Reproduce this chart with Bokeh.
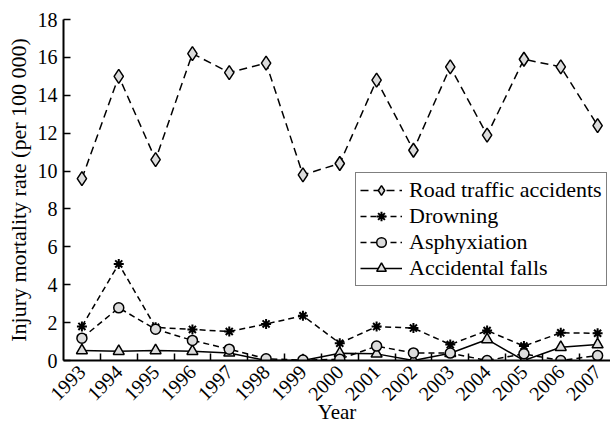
from bokeh.plotting import figure
from bokeh.models import Range1d, FixedTicker, Legend, LegendItem
from bokeh.embed import file_html
from bokeh.resources import INLINE

years = list(range(1993, 2008))
road = [9.6, 15.0, 10.6, 16.2, 15.2, 15.7, 9.8, 10.4, 14.8, 11.1, 15.5, 11.9, 15.9, 15.5, 12.4]
drowning = [1.8, 5.1, 1.75, 1.64, 1.53, 1.93, 2.36, 0.91, 1.79, 1.71, 0.84, 1.58, 0.76, 1.46, 1.44]
asphyx = [1.18, 2.78, 1.65, 1.06, 0.6, 0.09, 0.02, 0.07, 0.76, 0.4, 0.39, 0.0, 0.35, 0.0, 0.26]
falls = [0.53, 0.49, 0.53, 0.49, 0.4, 0.0, 0.0, 0.38, 0.35, 0.0, 0.38, 1.11, 0.0, 0.70, 0.84]
y_ticks = [0, 2, 4, 6, 8, 10, 12, 14, 16, 18]
boundaries = [y + 0.5 for y in years[:-1]]
x_title = "Year"
y_title = "Injury mortality rate (per 100 000)"

FONT = "Liberation Serif"
FILL = "#dcdcdc"

p = figure(width=610, height=426, output_backend="svg", toolbar_location=None,
           x_range=Range1d(1992.5, 2007.35), y_range=Range1d(0, 18),
           min_border_left=63, min_border_top=19, min_border_right=0, min_border_bottom=66)
p.outline_line_color = None
p.grid.grid_line_color = None
p.background_fill_color = "white"

r_road_l = p.line(years, road, line_color="black", line_width=1.5, line_dash="8 5")
r_road_m = p.scatter(years, road, marker="diamond", size=14, fill_color=FILL, line_color="black", line_width=1.5)

r_dr_l = p.line(years, drowning, line_color="black", line_width=1.5, line_dash="6 4")
r_dr_m = p.scatter(years, drowning, marker="asterisk", size=10, line_color="black", line_width=2)

r_fa_l = p.line(years, falls, line_color="black", line_width=1.5)
r_fa_m = p.scatter(years, falls, marker="triangle", size=11, fill_color=FILL, line_color="black", line_width=1.5)

r_as_l = p.line(years, asphyx, line_color="black", line_width=1.5, line_dash="6 4")
r_as_m = p.scatter(years, asphyx, marker="circle", size=10, fill_color=FILL, line_color="black", line_width=1.5)

# axes
p.xaxis.ticker = FixedTicker(ticks=years, minor_ticks=boundaries)
p.xaxis.major_tick_line_color = None
p.xaxis.minor_tick_in = 7
p.xaxis.minor_tick_out = 0
p.xaxis.minor_tick_line_width = 1.5
p.xaxis.major_label_orientation = 0.785398
p.xaxis.major_label_standoff = 2
p.xaxis.axis_label = x_title
p.xaxis.axis_label_standoff = -10

p.yaxis.ticker = FixedTicker(ticks=y_ticks, minor_ticks=[])
p.yaxis.major_tick_in = 7
p.yaxis.major_tick_out = 0
p.yaxis.major_label_standoff = 6
p.yaxis.axis_label = y_title
p.yaxis.axis_label_standoff = 4

for ax in (p.xaxis, p.yaxis):
    ax.axis_line_width = 2
    ax.axis_line_color = "black"
    ax.major_tick_line_width = 1.5
    ax.major_label_text_font = FONT
    ax.major_label_text_font_size = "20px"
    ax.major_label_text_color = "black"
    ax.axis_label_text_font = FONT
    ax.axis_label_text_font_size = "21px"
    ax.axis_label_text_font_style = "normal"
    ax.axis_label_text_color = "black"
p.yaxis.axis_label_text_font_size = "22px"

legend = Legend(items=[
    LegendItem(label="Road traffic accidents", renderers=[r_road_l, r_road_m]),
    LegendItem(label="Drowning", renderers=[r_dr_l, r_dr_m]),
    LegendItem(label="Asphyxiation", renderers=[r_as_l, r_as_m]),
    LegendItem(label="Accidental falls", renderers=[r_fa_l, r_fa_m]),
], location=(292, 74))
legend.label_text_font = FONT
legend.label_text_font_size = "22px"
legend.label_text_color = "black"
legend.glyph_width = 42
legend.glyph_height = 24
legend.label_height = 24
legend.label_standoff = 7
legend.spacing = 0
legend.padding = 4
legend.margin = 0
legend.border_line_color = "black"
legend.border_line_width = 1.5
legend.background_fill_alpha = 1
p.add_layout(legend)

open("out.html", "w").write(file_html(p, INLINE))
